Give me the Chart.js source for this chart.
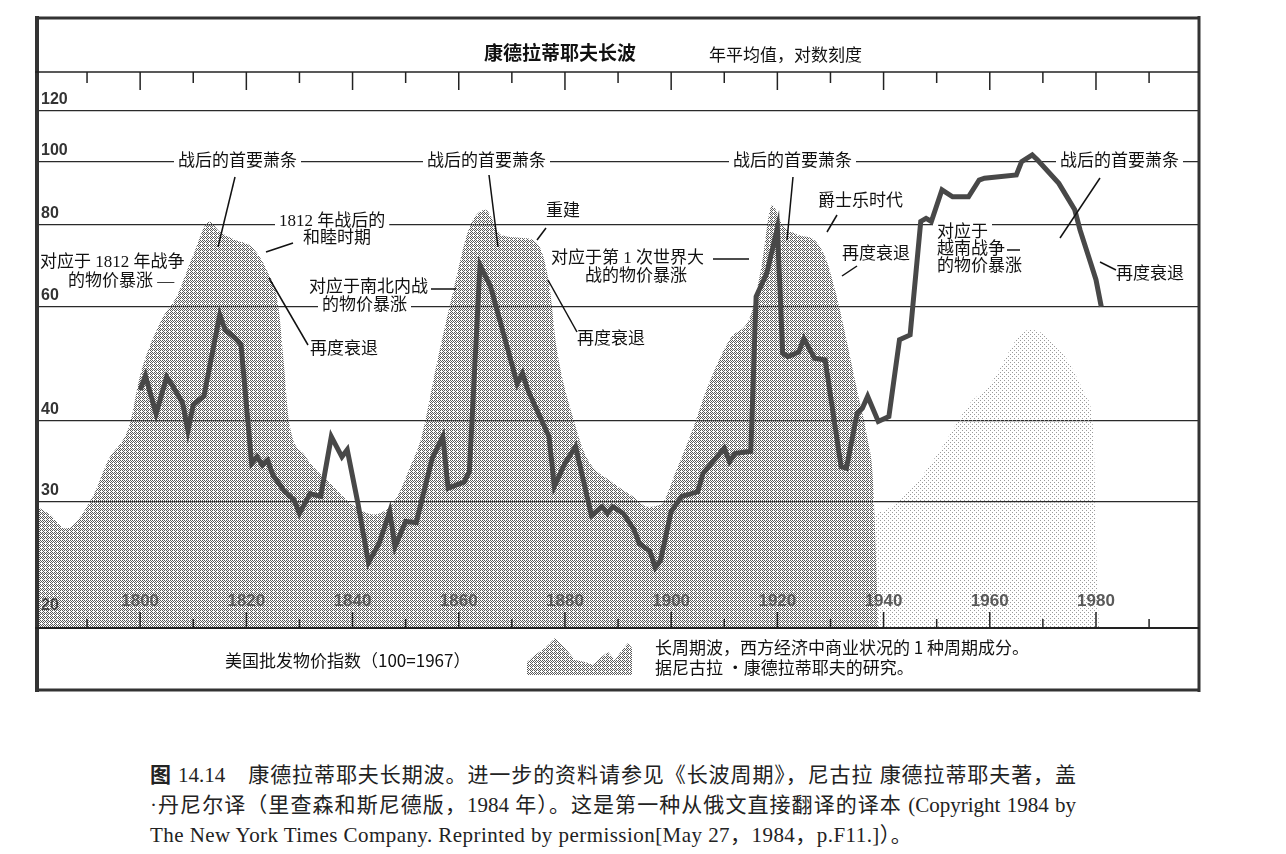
<!DOCTYPE html>
<html>
<head>
<meta charset="utf-8">
<script src="https://cdn.jsdelivr.net/npm/chart.js@4.4.1/dist/chart.umd.min.js"></script>
<style>
  body { margin: 0; background: #fff; width: 1286px; height: 854px; overflow: hidden; position: relative; }
  #wrap { position: absolute; left: 0; top: 0; width: 1286px; height: 700px; }
  .cap { position: absolute; left: 150px; font-family: "Liberation Serif", "Noto Sans CJK SC", serif; font-size: 21px; color: #222; line-height: 30px; }
  .just { width: 926px; text-align: justify; text-align-last: justify; }
</style>
</head>
<body>
<div id="wrap"><canvas id="kchart" width="1286" height="700"></canvas></div>
<div class="cap just" style="top:760px"><b>图</b> 14.14　康德拉蒂耶夫长期波。进一步的资料请参见《长波周期》，尼古拉 康德拉蒂耶夫著，盖</div>
<div class="cap just" style="top:790px">·丹尼尔译（里查森和斯尼德版，1984 年）。这是第一种从俄文直接翻译的译本 (Copyright 1984 by</div>
<div class="cap" style="top:820px; letter-spacing:0.45px">The New York Times Company. Reprinted by permission[May 27，1984，p.F11.]）。</div>
<script>
// wholesale price index, 1967 = 100 (log scale)
const priceYears = [1800, 1801, 1803, 1805, 1806, 1808, 1809, 1810, 1811, 1812, 1815, 1816, 1818, 1819,
  1821, 1822, 1823, 1824, 1825, 1827, 1829, 1830, 1832, 1834, 1836, 1838, 1839, 1841, 1843, 1845,
  1847, 1848, 1850, 1852, 1855, 1857, 1858, 1861, 1862, 1864, 1866, 1871, 1872, 1873, 1877, 1878,
  1880, 1882, 1885, 1887, 1888, 1889, 1891, 1893, 1894, 1896, 1897, 1898, 1900, 1902, 1905, 1906,
  1910, 1911, 1912, 1915, 1916, 1918, 1920, 1921, 1922, 1924, 1925, 1927, 1929, 1932, 1933, 1935,
  1936, 1937, 1939, 1941, 1943, 1945, 1947, 1948, 1949, 1951, 1953, 1956, 1958, 1959, 1965, 1966,
  1968, 1969, 1973, 1976, 1977, 1979, 1980, 1981];
const priceValues = [44.6, 46.9, 41.0, 46.7, 45.4, 42.6, 38.6, 42.3, 43.0, 43.6, 58.2, 55.2, 53.5, 52.3,
  34.4, 35.2, 34.2, 34.8, 33.0, 31.3, 30.2, 28.8, 30.9, 30.6, 37.8, 35.2, 36.1, 29.9, 24.2, 25.9,
  29.0, 25.6, 28.0, 27.9, 35.0, 37.8, 31.5, 32.2, 33.4, 69.4, 64.3, 45.6, 47.3, 44.6, 37.8, 31.7,
  34.4, 36.5, 28.6, 29.5, 28.8, 29.5, 28.8, 27.2, 25.9, 25.2, 23.8, 24.4, 29.0, 30.6, 31.1, 33.2,
  36.3, 34.6, 35.6, 35.9, 62.1, 67.4, 79.1, 50.8, 50.2, 51.0, 53.5, 49.9, 49.6, 34.0, 33.8, 41.0,
  41.8, 43.6, 39.9, 40.6, 53.3, 54.2, 81.0, 81.9, 81.0, 90.6, 88.4, 88.4, 93.8, 94.4, 95.5, 100.1,
  102.5, 100.7, 92.7, 84.4, 78.6, 69.9, 65.9, 59.9];

// long wave envelope, first three waves (dark shading)
const waveYears = [1780, 1783, 1786, 1791, 1794, 1798, 1800, 1804, 1807, 1810, 1813, 1815, 1818, 1821,
  1824, 1826, 1827, 1828, 1831, 1836, 1840, 1844, 1848, 1851, 1853, 1856, 1859, 1862, 1865, 1868,
  1872, 1875, 1877, 1878.5, 1881.5, 1884, 1889, 1893, 1895.5, 1898, 1901, 1904, 1907, 1911, 1915,
  1917, 1919, 1921, 1924, 1927, 1929, 1931, 1933, 1935, 1937, 1938, 1939];
const waveValues = [29.7, 28.7, 27.3, 30.5, 34.8, 39.4, 47.0, 57.1, 62.4, 71.9, 80.9, 78.1, 75.8, 74.0,
  67.7, 60.2, 49.6, 40.1, 35.4, 31.9, 29.7, 28.7, 30.2, 34.2, 37.8, 49.6, 63.5, 79.2, 84.4, 77.2,
  76.4, 74.5, 65.1, 51.4, 40.5, 35.2, 32.1, 30.5, 29.5, 29.7, 33.6, 38.7, 45.4, 53.3, 58.2,
  69.0, 85.8, 80.0, 77.2, 75.8, 71.4, 62.9, 53.3, 44.6, 37.4, 32.4, 19.3];

// fourth wave (light shading)
const lateWaveYears = [1937, 1938, 1945, 1950.7, 1956.3, 1960, 1965.7, 1967.6, 1973.3, 1978, 1979.5, 1979.9, 1980.2, 1980.6];
const lateWaveValues = [29.7, 28.8, 31.3, 36.1, 42.6, 45.4, 54.2, 55.2, 51.4, 43.8, 38.7, 30.2, 22.8, 19.3];

const yTickValues = [20, 30, 40, 60, 80, 100, 120];
const xTickYears = [1790, 1800, 1810, 1820, 1830, 1840, 1850, 1860, 1870, 1880, 1890, 1900, 1910,
  1920, 1930, 1940, 1950, 1960, 1970, 1980, 1990];
const xLabelYears = [1800, 1820, 1840, 1860, 1880, 1900, 1920, 1940, 1960, 1980];

const CJK = "'Liberation Serif', 'Noto Sans CJK SC', serif";
const SANS = "'Noto Sans CJK SC', 'Liberation Sans', sans-serif";

Chart.defaults.font.family = SANS;

const canvas = document.getElementById("kchart");
const ctx = canvas.getContext("2d");

function stipple(cover, color) {
  const bayer = [0, 8, 2, 10, 12, 4, 14, 6, 3, 11, 1, 9, 15, 7, 13, 5];
  const tile = document.createElement("canvas");
  tile.width = 4;
  tile.height = 4;
  const g = tile.getContext("2d");
  g.fillStyle = color;
  bayer.forEach((m, i) => {
    if (m < cover) g.fillRect(i % 4, Math.floor(i / 4), 1, 1);
  });
  return ctx.createPattern(tile, "repeat");
}

const darkDots = stipple(7, "#5a5a5a");
const lightDots = stipple(2, "#9a9a9a");

function pairs(xs, ys) {
  return xs.map((x, i) => ({ x: x, y: ys[i] }));
}

// texts placed on the picture: [text, left, middle y, white background]
const notes = [
  ["战后的首要萧条", 178, 162, true],
  ["战后的首要萧条", 427, 162, true],
  ["战后的首要萧条", 733, 162, true],
  ["战后的首要萧条", 1060, 162, true],
  ["1812 年战后的", 279, 222, true],
  ["和睦时期", 303, 239, false],
  ["对应于 1812 年战争", 40, 263, false],
  ["的物价暴涨 —", 68, 282, false],
  ["对应于南北内战", 309, 288, false],
  ["的物价暴涨", 322, 306, true],
  ["再度衰退", 310, 350, false],
  ["重建", 546, 212, false],
  ["对应于第 1 次世界大", 551, 259, false],
  ["战的物价暴涨", 585, 277, false],
  ["再度衰退", 577, 340, false],
  ["爵士乐时代", 818, 202, false],
  ["再度衰退", 842, 255, false],
  ["对应于", 937, 233, true],
  ["越南战争", 937, 250, false],
  ["的物价暴涨", 937, 267, false],
  ["再度衰退", 1116, 275, false],
];

const leaders = [
  [235, 177, 218, 247], [489, 175, 498, 247], [793, 177, 787, 240], [1100, 178, 1060, 238],
  [293, 243, 266, 252], [269, 278, 308, 345], [431, 289, 456, 289], [546, 228, 537, 240],
  [713, 259, 749, 259], [548, 280, 577, 332], [837, 215, 827, 232], [857, 266, 842, 276],
  [1007, 250, 1020, 250], [1100, 262, 1116, 270],
];

const decor = {
  id: "decor",
  afterDraw(chart) {
    const c = chart.ctx;
    const a = chart.chartArea;
    const xs = chart.scales.x;

    function seg(x1, y1, x2, y2, w, col) {
      c.beginPath();
      c.moveTo(x1, y1);
      c.lineTo(x2, y2);
      c.lineWidth = w;
      c.strokeStyle = col || "#222";
      c.stroke();
    }

    c.save();

    // frame and the two axis lines
    seg(35, 18, 1200, 18, 3, "#333");
    seg(37, 16, 37, 692, 4, "#333");
    seg(1199, 16, 1199, 692, 3, "#333");
    seg(35, 690, 1200, 690, 3, "#333");
    seg(a.left, a.top, a.right, a.top, 1.5);
    seg(a.left, a.bottom, a.right, a.bottom, 2);

    xTickYears.forEach(yr => {
      const px = xs.getPixelForValue(yr);
      const big = xLabelYears.includes(yr);
      seg(px, a.top, px, a.top + (big ? 18 : 11), 1.5);
      seg(px, a.bottom, px, a.bottom - (big ? 16 : 9), 1.5);
    });

    c.font = "bold 17px 'Liberation Sans', Arial, sans-serif";
    c.fillStyle = "#5a5a5a";
    c.textAlign = "center";
    c.textBaseline = "middle";
    xLabelYears.forEach(yr => c.fillText(String(yr), xs.getPixelForValue(yr), 601));

    // title
    c.textAlign = "left";
    c.fillStyle = "#111";
    c.font = "bold 19px " + SANS;
    c.fillText("康德拉蒂耶夫长波", 484, 53);
    c.font = "17px " + SANS;
    c.fillText("年平均值，对数刻度", 709, 55);

    // annotations
    c.font = "17px " + CJK;
    notes.forEach(n => {
      const w = c.measureText(n[0]).width;
      if (n[3]) {
        c.fillStyle = "#fff";
        c.fillRect(n[1] - 4, n[2] - 9, w + 8, 18);
      }
      c.fillStyle = "#111";
      c.fillText(n[0], n[1], n[2]);
    });
    leaders.forEach(l => seg(l[0], l[1], l[2], l[3], 1.5, "#111"));

    // legend row
    c.font = "17px " + SANS;
    c.fillStyle = "#111";
    c.fillText("美国批发物价指数（100=1967）", 225, 661);
    c.fillText("长周期波，西方经济中商业状况的 1 种周期成分。", 655, 648);
    c.fillText("据尼古拉 ·康德拉蒂耶夫的研究。", 655, 668);

    const sw = [[527, 662], [535, 655], [545, 648], [555, 638], [565, 648], [575, 660], [585, 662],
      [593, 665], [600, 658], [608, 652], [615, 660], [622, 650], [628, 643], [632, 648], [632, 675], [527, 675]];
    c.beginPath();
    sw.forEach((p, i) => (i ? c.lineTo(p[0], p[1]) : c.moveTo(p[0], p[1])));
    c.closePath();
    c.fillStyle = darkDots;
    c.fill();

    c.restore();
  },
};

new Chart(canvas, {
  type: "line",
  data: {
    datasets: [
      {
        label: "美国批发物价指数（100=1967）",
        data: pairs(priceYears, priceValues),
        borderColor: "#484848",
        borderWidth: 5,
        borderJoinStyle: "miter",
        pointRadius: 0,
        tension: 0,
        fill: false,
        order: 0,
      },
      {
        label: "长周期波",
        data: pairs(waveYears, waveValues),
        backgroundColor: darkDots,
        borderWidth: 0,
        pointRadius: 0,
        cubicInterpolationMode: "monotone",
        fill: "start",
        order: 1,
      },
      {
        label: "长周期波（第4波）",
        data: pairs(lateWaveYears, lateWaveValues),
        backgroundColor: lightDots,
        borderWidth: 0,
        pointRadius: 0,
        cubicInterpolationMode: "monotone",
        fill: "start",
        order: 2,
      },
    ],
  },
  options: {
    responsive: false,
    animation: false,
    devicePixelRatio: 1,
    layout: { padding: { left: 35, right: 87, top: 72, bottom: 72 } },
    plugins: { legend: { display: false }, tooltip: { enabled: false } },
    scales: {
      x: { type: "linear", min: 1780.2, max: 1999.4, bounds: "data", display: false },
      y: {
        type: "logarithmic",
        min: 19.2,
        max: 137.5,
        bounds: "data",
        afterBuildTicks: s => { s.ticks = yTickValues.map(v => ({ value: v })); },
        afterFit: s => { s.width = 0; },
        border: { display: false },
        grid: {
          drawTicks: false,
          lineWidth: 1.2,
          color: c => (c.tick && c.tick.value === 20 ? "rgba(0,0,0,0)" : "#2a2a2a"),
        },
        ticks: {
          mirror: true,
          padding: 6,
          labelOffset: -11,
          autoSkip: false,
          color: "#333",
          font: { family: "'Liberation Sans', Arial, sans-serif", size: 16, weight: "bold" },
          callback: v => String(v),
        },
      },
    },
  },
  plugins: [decor],
});
</script>
</body>
</html>
